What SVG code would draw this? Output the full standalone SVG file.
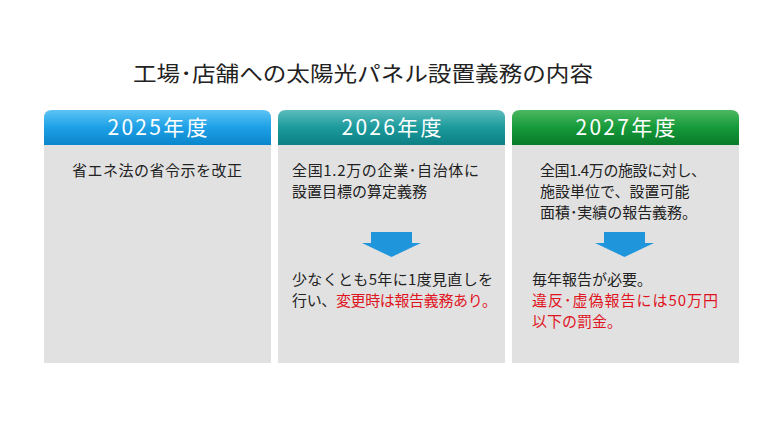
<svg xmlns="http://www.w3.org/2000/svg" width="784" height="433" viewBox="0 0 784 433">
<defs>
<linearGradient id="gb" x1="0" y1="0" x2="0" y2="1"><stop offset="0" stop-color="#5cc4f4"/><stop offset="0.5" stop-color="#1ea0e6"/><stop offset="1" stop-color="#0a86cc"/></linearGradient>
<linearGradient id="gt" x1="0" y1="0" x2="0" y2="1"><stop offset="0" stop-color="#5cbcbc"/><stop offset="0.5" stop-color="#1c9a9c"/><stop offset="1" stop-color="#0c8084"/></linearGradient>
<linearGradient id="gg" x1="0" y1="0" x2="0" y2="1"><stop offset="0" stop-color="#4cb860"/><stop offset="0.5" stop-color="#159a3a"/><stop offset="1" stop-color="#0a7a2a"/></linearGradient>
</defs>
<style>
text{font-family:"Noto Sans CJK JP","Noto Sans",sans-serif;fill:#222}
.h{fill:#fff;font-size:21px;text-anchor:middle}
.b{font-size:15px}
.r{fill:#e0141e}
.body{fill:#e1e1e1}
.arr{fill:#1f96dc}
</style>
<rect width="784" height="433" fill="#fff"/>
<text x="133" y="81" style="font-size:21px" textLength="460" lengthAdjust="spacingAndGlyphs">工場･店舗への太陽光パネル設置義務の内容</text>
<g id="col2025">
<rect class="body" x="44" y="140" width="227" height="223"/>
<path d="M44,145 V118 Q44,110 52,110 H263 Q271,110 271,118 V145 Z" fill="url(#gb)"/>
<text class="h" x="157.5" y="135" textLength="100">2025年度</text>
<text class="b" x="72" y="176" textLength="170">省エネ法の省令示を改正</text>
</g>
<g id="col2026">
<rect class="body" x="278" y="140" width="227" height="223"/>
<path d="M278,145 V118 Q278,110 286,110 H497 Q505,110 505,118 V145 Z" fill="url(#gt)"/>
<text class="h" x="391.5" y="135" textLength="100">2026年度</text>
<text class="b" x="292" y="176" textLength="187">全国1.2万の企業･自治体に</text>
<text class="b" x="292" y="197">設置目標の算定義務</text>
<text class="b" x="292" y="285" textLength="201">少なくとも5年に1度見直しを</text>
<text class="b" x="292" y="306" textLength="205">行い、<tspan class="r">変更時は報告義務あり。</tspan></text>
</g>
<g id="col2027">
<rect class="body" x="512" y="140" width="227" height="223"/>
<path d="M512,145 V118 Q512,110 520,110 H731 Q739,110 739,118 V145 Z" fill="url(#gg)"/>
<text class="h" x="625.5" y="135" textLength="100">2027年度</text>
<text class="b" x="540" y="176" textLength="166">全国1.4万の施設に対し、</text>
<text class="b" x="540" y="197">施設単位で、設置可能</text>
<text class="b" x="540" y="218" textLength="157">面積･実績の報告義務。</text>
<text class="b" x="532" y="285">毎年報告が必要。</text>
<text class="b r" x="532" y="306" textLength="186">違反･虚偽報告には50万円</text>
<text class="b r" x="532" y="327">以下の罰金。</text>
</g>
<g id="connectors">
<path class="arr" d="M371,232 H412 V243 H421 L391.5,257 L362,243 H371 Z"/>
<path class="arr" d="M604,232 H645 V243 H654 L624.5,257 L595,243 H604 Z"/>
</g>
</svg>
